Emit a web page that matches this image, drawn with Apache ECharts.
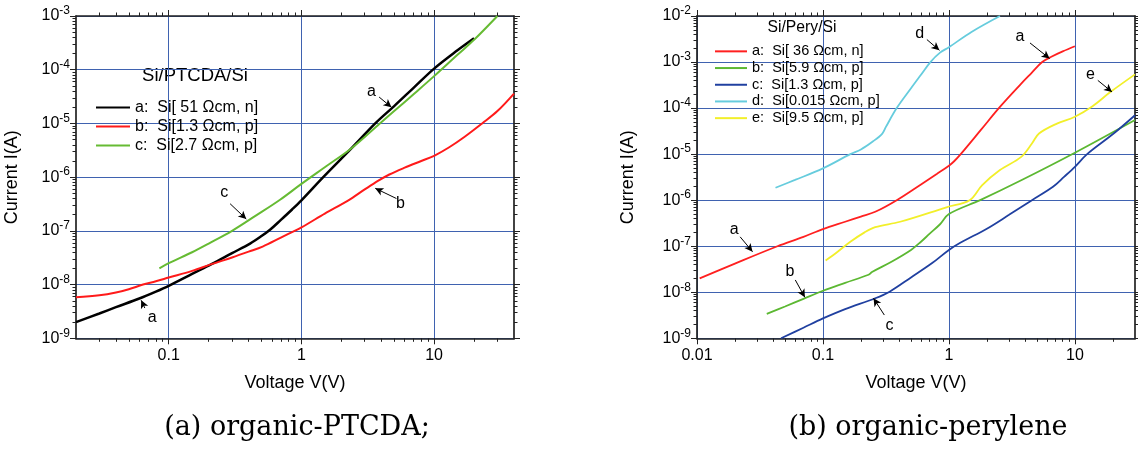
<!DOCTYPE html>
<html>
<head>
<meta charset="utf-8">
<script src="https://cdn.jsdelivr.net/npm/echarts@6/dist/echarts.min.js"></script>
<style>html,body{margin:0;padding:0;background:#fff}#c{width:1138px;height:449px}</style>
</head>
<body>
<div id="c"></div>
<script>
// ---------------- (a) Si/PTCDA/Si : [voltage V, current A] ----------------
const ptcdaA = [[0.02,2.0e-9],[0.03,2.9e-9],[0.04,3.8e-9],[0.06,5.5e-9],[0.08,7.4e-9],[0.1,9.5e-9],[0.15,1.58e-8],[0.21,2.4e-8],[0.3,3.85e-8],[0.41,5.8e-8],[0.5,8.0e-8],[0.58,1.05e-7],[0.7,1.6e-7],[0.85,2.5e-7],[1.0,3.7e-7],[1.46,1.0e-6],[2.4,3.5e-6],[3.6,1.0e-5],[5,2.1e-5],[7,4.6e-5],[10,1.05e-4],[15,2.3e-4],[20,3.85e-4]];
const ptcdaB = [[0.02,5.8e-9],[0.03,6.3e-9],[0.04,7.1e-9],[0.05,8.2e-9],[0.064,1.0e-8],[0.08,1.15e-8],[0.1,1.35e-8],[0.15,1.8e-8],[0.21,2.4e-8],[0.3,3.2e-8],[0.4,4.1e-8],[0.51,5.1e-8],[0.7,7.5e-8],[1.0,1.16e-7],[1.5,2.1e-7],[2.26,3.7e-7],[3.0,5.9e-7],[3.8,8.6e-7],[4.6,1.12e-6],[6,1.5e-6],[8,2.0e-6],[10,2.5e-6],[13,3.6e-6],[17,5.65e-6],[23,1.0e-5],[30,1.7e-5],[40,3.6e-5]];
const ptcdaC = [[0.085,2.0e-8],[0.1,2.5e-8],[0.15,4.0e-8],[0.2,5.8e-8],[0.3,1.0e-7],[0.45,1.9e-7],[0.69,3.8e-7],[1.0,7.5e-7],[1.5,1.53e-6],[2.4,3.5e-6],[3.9,1.0e-5],[5,1.7e-5],[7,3.5e-5],[10,7.6e-5],[15,1.9e-4],[20,3.6e-4],[30,1.0e-3]];
const ptcdaNames = ['a:  Si[ 51 \u03A9cm, n]', 'b:  Si[1.3 \u03A9cm, p]', 'c:  Si[2.7 \u03A9cm, p]'];
const ptcdaColors = ['#000000', '#ff1a1a', '#66bb33'];
const ptcdaXRange = [0.02, 40];
const ptcdaYRange = [1e-9, 1e-3];
const ptcdaXTicks = [0.1, 1, 10];
const ptcdaYTicks = [1e-9, 1e-8, 1e-7, 1e-6, 1e-5, 1e-4, 1e-3];
// annotation arrows: [fromV, fromI, toV, toI]; letters: [text, V, I]
const ptcdaArrows = [[3.85,3.1e-5,4.77,2.0e-5],[5.2,4.0e-7,3.6,6.2e-7],[0.29,3.2e-7,0.384,1.66e-7],[0.066,3.66e-9,0.062,5.1e-9]];
const ptcdaLetters = [['a',3.37,3.9e-5],['b',5.57,3.2e-7],['c',0.262,5.1e-7],['a',0.075,2.4e-9]];

// ---------------- (b) Si/Pery/Si ----------------
const peryA = [[0.0105,2.0e-8],[0.02,4.2e-8],[0.0435,1.0e-7],[0.07,1.6e-7],[0.1,2.36e-7],[0.15,3.4e-7],[0.2,4.4e-7],[0.26,5.6e-7],[0.385,1.0e-6],[0.6,2.2e-6],[0.8,3.7e-6],[1.0,5.6e-6],[1.1,7.0e-6],[1.24,1.0e-5],[1.8,3.4e-5],[2.54,1.06e-4],[3.75,3.4e-4],[4.5,5.7e-4],[5.5,1.0e-3],[6.5,1.3e-3],[8,1.7e-3],[10,2.2e-3]];
const peryB = [[0.0358,3.4e-9],[0.05,4.9e-9],[0.07,7.2e-9],[0.1,1.08e-8],[0.15,1.6e-8],[0.23,2.4e-8],[0.245,2.75e-8],[0.35,4.6e-8],[0.5,8.3e-8],[0.6,1.25e-7],[0.7,1.85e-7],[0.85,3.0e-7],[1.0,5.0e-7],[1.77,1.0e-6],[3.75,2.7e-6],[10,1.07e-5],[30,5.5e-5]];
const peryC = [[0.0465,1.0e-9],[0.07,1.7e-9],[0.1,2.7e-9],[0.15,4.3e-9],[0.26,7.4e-9],[0.338,1.03e-8],[0.5,2.1e-8],[0.736,4.3e-8],[1.0,8.3e-8],[1.24,1.2e-7],[2,2.4e-7],[3,4.8e-7],[4.56,1.0e-6],[6.7,1.95e-6],[8.2,3.2e-6],[10,5.3e-6],[12.5,1.0e-5],[20.3,2.8e-5],[30,7.0e-5]];
const peryD = [[0.042,1.86e-6],[0.06,2.75e-6],[0.1,4.9e-6],[0.165,1.0e-5],[0.2,1.26e-5],[0.25,1.9e-5],[0.296,2.8e-5],[0.316,3.9e-5],[0.385,1.0e-4],[0.5,2.7e-4],[0.6,5.3e-4],[0.713,1.0e-3],[0.85,1.6e-3],[1.0,2.1e-3],[1.51,4.5e-3],[2.54,1.0e-2]];
const peryE = [[0.105,4.9e-8],[0.13,7.5e-8],[0.165,1.25e-7],[0.214,2.0e-7],[0.26,2.6e-7],[0.41,3.4e-7],[0.955,7.0e-7],[1.46,1.0e-6],[1.83,2.1e-6],[2.54,4.5e-6],[3.75,8.7e-6],[4.56,1.7e-5],[5.19,2.8e-5],[7.2,4.6e-5],[10,6.5e-5],[13.8,1.1e-4],[19,2.2e-4],[30,5.4e-4]];
const peryNames = ['a:  Si[ 36 \u03A9cm, n]', 'b:  Si[5.9 \u03A9cm, p]', 'c:  Si[1.3 \u03A9cm, p]', 'd:  Si[0.015 \u03A9cm, p]', 'e:  Si[9.5 \u03A9cm, p]'];
const peryColors = ['#ff2020', '#5cb832', '#2040a0', '#66ccdd', '#f2ef2a'];
const peryXRange = [0.01, 30];
const peryYRange = [1e-9, 1e-2];
const peryXTicks = [0.01, 0.1, 1, 10];
const peryYTicks = [1e-9, 1e-8, 1e-7, 1e-6, 1e-5, 1e-4, 1e-3, 1e-2];
const peryArrows = [[0.668,3.08e-3,0.84,1.8e-3],[4.4,2.6e-3,6.3,1.19e-3],[15.2,4.0e-4,19.7,2.24e-4],[0.022,1.6e-7,0.0276,7.6e-8],[0.0603,1.85e-8,0.0718,7.8e-9],[0.307,3.2e-9,0.252,7.4e-9]];
const peryLetters = [['d',0.587,4.15e-3],['a',3.67,3.63e-3],['e',13.3,5.4e-4],['a',0.0197,2.24e-7],['b',0.0547,2.8e-8],['c',0.338,1.86e-9]];

const titles = ['Si/PTCDA/Si', 'Si/Pery/Si'];
const captions = ['(a) organic-PTCDA;', '(b) organic-perylene'];
const xName = 'Voltage V(V)';
const yName = 'Current I(A)';

// ---------------- styling / helpers ----------------
const FONT = '"Liberation Sans", Arial, Helvetica, sans-serif';
const SERIF = '"DejaVu Serif", serif';
const GRIDC = '#3f62b0';
const AXC = '#222222';

function minorTicks(lo, hi) {
  const out = [];
  for (let d = Math.floor(Math.log10(lo)); d <= Math.ceil(Math.log10(hi)); d++) {
    for (let k = 2; k <= 9; k++) {
      const v = +(k * Math.pow(10, d)).toPrecision(3);
      if (v > lo * 1.0001 && v < hi * 0.9999) out.push(v);
    }
  }
  return out;
}
const fmtX = v => String(+(+v).toPrecision(3));
const fmtY = v => '{b|10}{s|' + Math.round(Math.log10(v)) + '}';

function buildX(gi, range, majors) {
  const minors = minorTicks(range[0], range[1]);
  const base = {type: 'log', logBase: 10, gridIndex: gi, min: range[0], max: range[1]};
  const ts = {color: AXC, width: 1};
  return [
    Object.assign({}, base, {position: 'bottom', name: xName, nameLocation: 'middle', nameGap: 36,
      nameTextStyle: {fontFamily: FONT, fontSize: 18, color: '#000'},
      axisLine: {show: true, onZero: false, lineStyle: {color: AXC, width: 1.7}},
      axisTick: {show: true, inside: false, length: 6, customValues: majors, lineStyle: ts},
      axisLabel: {show: true, customValues: majors, margin: 9, fontFamily: FONT, fontSize: 16, color: '#000', formatter: fmtX},
      splitLine: {show: true, lineStyle: {color: GRIDC, width: 1}}}),
    Object.assign({}, base, {position: 'bottom', axisLine: {show: false},
      axisTick: {show: true, inside: false, length: 3.5, customValues: minors, lineStyle: ts},
      axisLabel: {show: false}, splitLine: {show: false}}),
    Object.assign({}, base, {position: 'top', axisLine: {show: true, onZero: false, lineStyle: {color: AXC, width: 1.7}},
      axisTick: {show: true, inside: false, length: 6, customValues: majors, lineStyle: ts},
      axisLabel: {show: false}, splitLine: {show: false}}),
    Object.assign({}, base, {position: 'top', axisLine: {show: false},
      axisTick: {show: true, inside: false, length: 3.5, customValues: minors, lineStyle: ts},
      axisLabel: {show: false}, splitLine: {show: false}})
  ];
}
function buildY(gi, range, majors, nameGap) {
  const minors = minorTicks(range[0], range[1]);
  const base = {type: 'log', logBase: 10, gridIndex: gi, min: range[0], max: range[1]};
  const ts = {color: AXC, width: 1};
  return [
    Object.assign({}, base, {position: 'left', name: yName, nameLocation: 'middle', nameGap: nameGap, nameRotate: 90,
      nameTextStyle: {fontFamily: FONT, fontSize: 18, color: '#000'},
      axisLine: {show: true, onZero: false, lineStyle: {color: AXC, width: 1.7}},
      axisTick: {show: true, inside: false, length: 6, customValues: majors, lineStyle: ts},
      axisLabel: {show: true, customValues: majors, margin: 6, formatter: fmtY,
        rich: {b: {fontFamily: FONT, fontSize: 16, color: '#000'},
               s: {fontFamily: FONT, fontSize: 12, color: '#000', padding: [0, 0, 10, 0]}}},
      splitLine: {show: true, lineStyle: {color: GRIDC, width: 1}}}),
    Object.assign({}, base, {position: 'left', axisLine: {show: false},
      axisTick: {show: true, inside: false, length: 3.5, customValues: minors, lineStyle: ts},
      axisLabel: {show: false}, splitLine: {show: false}}),
    Object.assign({}, base, {position: 'right', axisLine: {show: true, onZero: false, lineStyle: {color: AXC, width: 1.7}},
      axisTick: {show: true, inside: false, length: 6, customValues: majors, lineStyle: ts},
      axisLabel: {show: false}, splitLine: {show: false}}),
    Object.assign({}, base, {position: 'right', axisLine: {show: false},
      axisTick: {show: true, inside: false, length: 3.5, customValues: minors, lineStyle: ts},
      axisLabel: {show: false}, splitLine: {show: false}})
  ];
}
function lineSeries(name, data, color, width, xi, yi) {
  return {type: 'line', name: name, data: data, xAxisIndex: xi, yAxisIndex: yi, color: color,
    showSymbol: false, symbol: 'none', smooth: 0.35,
    lineStyle: {color: color, width: width}, emphasis: {disabled: true}, animation: false};
}
function arrowMarks(arrows) {
  return {silent: true, symbol: ['none', 'arrow'], symbolSize: [6, 8], label: {show: false},
    lineStyle: {color: '#000', width: 1, type: 'solid'}, emphasis: {disabled: true}, animation: false,
    data: arrows.map(a => [{coord: [a[0], a[1]]}, {coord: [a[2], a[3]]}])};
}
function letterMarks(letters, size) {
  return {silent: true, symbol: 'circle', symbolSize: 0, animation: false, itemStyle: {color: 'rgba(0,0,0,0)'},
    label: {show: true, position: 'inside', formatter: '{b}', color: '#000', fontFamily: FONT, fontSize: size},
    data: letters.map(l => ({name: l[0], coord: [l[1], l[2]]}))};
}

const leftSeries = [ptcdaA, ptcdaB, ptcdaC].map((d, i) => lineSeries(ptcdaNames[i], d, ptcdaColors[i], i === 0 ? 2.5 : 2, 0, 0));
leftSeries[0].markLine = arrowMarks(ptcdaArrows);
leftSeries[0].markPoint = letterMarks(ptcdaLetters, 16);
const rightSeries = [peryA, peryB, peryC, peryD, peryE].map((d, i) => lineSeries(peryNames[i], d, peryColors[i], 1.8, 4, 4));
rightSeries[0].markLine = arrowMarks(peryArrows);
rightSeries[0].markPoint = letterMarks(peryLetters, 16);

const option = {
  animation: false,
  backgroundColor: '#ffffff',
  grid: [
    {left: 76, top: 16, width: 438, height: 322.3, containLabel: false, outerBoundsMode: 'none'},
    {left: 697, top: 16, width: 438, height: 322.3, containLabel: false, outerBoundsMode: 'none'}
  ],
  xAxis: buildX(0, ptcdaXRange, ptcdaXTicks).concat(buildX(1, peryXRange, peryXTicks)),
  yAxis: buildY(0, ptcdaYRange, ptcdaYTicks, 55).concat(buildY(1, peryYRange, peryYTicks, 60)),
  legend: [
    {data: ptcdaNames, orient: 'vertical', left: 96, top: 98, padding: 0, itemWidth: 34, itemHeight: 2, itemGap: 0,
      icon: 'rect', selectedMode: false, textStyle: {fontFamily: FONT, fontSize: 16, lineHeight: 19, color: '#000'}},
    {data: peryNames, orient: 'vertical', left: 715, top: 43, padding: 0, itemWidth: 32, itemHeight: 2, itemGap: 0,
      icon: 'rect', selectedMode: false, textStyle: {fontFamily: FONT, fontSize: 14.5, lineHeight: 16.7, color: '#000'}}
  ],
  graphic: [
    {type: 'text', x: 195, y: 76, style: {text: titles[0], font: '18.5px ' + FONT, fill: '#000', textAlign: 'center', textVerticalAlign: 'middle', align: 'center', verticalAlign: 'middle'}},
    {type: 'text', x: 802, y: 28, style: {text: titles[1], font: '15.7px ' + FONT, fill: '#000', textAlign: 'center', textVerticalAlign: 'middle', align: 'center', verticalAlign: 'middle'}},
    {type: 'text', x: 297, y: 428, style: {text: captions[0], font: '27px ' + SERIF, fill: '#000', textAlign: 'center', textVerticalAlign: 'middle', align: 'center', verticalAlign: 'middle'}},
    {type: 'text', x: 928, y: 428, style: {text: captions[1], font: '27px ' + SERIF, fill: '#000', textAlign: 'center', textVerticalAlign: 'middle', align: 'center', verticalAlign: 'middle'}}
  ],
  series: leftSeries.concat(rightSeries)
};
const chart = echarts.init(document.getElementById('c'), null, {renderer: 'canvas'});
chart.setOption(option);
</script>
</body>
</html>
